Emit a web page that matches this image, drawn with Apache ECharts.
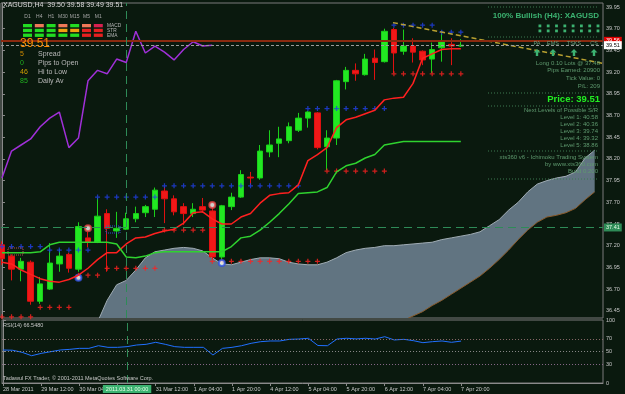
<!DOCTYPE html>
<html>
<head>
<meta charset="utf-8">
<script src="https://cdn.jsdelivr.net/npm/echarts@6.0.0/dist/echarts.min.js"></script>
<style>
html,body{margin:0;padding:0;background:#0a190e;overflow:hidden}
#chart{width:625px;height:394px}
</style>
</head>
<body>
<div id="chart"></div>
<script>
// ---------------- data ----------------
const timeLabels = ['28 Mar 2011','29 Mar 12:00','30 Mar 04:00','30 Mar 20:00','31 Mar 12:00','1 Apr 04:00','1 Apr 20:00','4 Apr 12:00','5 Apr 04:00','5 Apr 20:00','6 Apr 12:00','7 Apr 04:00','7 Apr 20:00'];
const labelBars = [0,4,8,12,16,20,24,28,32,36,40,44,48];
const priceTicks = [36.45,36.70,36.95,37.20,37.45,37.70,37.95,38.20,38.45,38.70,38.95,39.20,39.45,39.70,39.95];
const rsiTicks = [0,30,50,70,100];

const opens = [37.21,37.08,36.93,37.01,36.56,36.70,36.99,37.10,36.93,37.29,
 37.24,37.57,37.37,37.39,37.51,37.58,37.62,37.83,37.74,37.65,
 37.57,37.65,37.60,37.07,37.65,37.76,37.99,37.98,38.28,38.38,
 38.41,38.53,38.67,38.73,38.34,38.44,39.09,39.22,39.17,39.36,
 39.32,39.69,39.44,39.50,39.44,39.35,39.48,39.52,39.50];
const closes = [37.05,36.93,37.02,36.56,36.76,37.00,37.08,36.94,37.42,37.24,
 37.54,37.40,37.40,37.51,37.57,37.65,37.84,37.74,37.59,37.57,
 37.62,37.61,37.07,37.66,37.76,38.02,37.98,38.29,38.36,38.43,
 38.57,38.67,38.74,38.33,38.44,39.10,39.22,39.18,39.35,39.31,
 39.67,39.42,39.50,39.43,39.34,39.46,39.55,39.50,39.51];
const lows = [36.98,36.80,36.79,36.52,36.53,36.69,36.90,36.89,36.90,37.18,
 37.23,36.90,37.29,37.38,37.47,37.53,37.53,37.46,37.55,37.44,
 37.53,37.58,37.04,36.96,37.61,37.75,37.90,37.96,38.22,38.22,
 38.38,38.51,38.56,38.31,38.07,38.36,39.00,39.10,39.16,39.11,
 39.31,39.19,39.40,39.31,39.28,39.19,39.32,39.28,39.49];
const highs = [37.25,37.10,37.06,37.03,36.84,37.23,37.16,37.12,37.47,37.36,
 37.75,37.62,37.59,37.58,37.65,37.67,37.87,37.88,37.78,37.69,
 37.69,37.75,37.65,37.67,37.81,38.07,38.05,38.36,38.53,38.57,
 38.62,38.73,38.75,38.74,38.53,39.11,39.26,39.30,39.41,39.46,
 39.70,39.71,39.69,39.59,39.45,39.54,39.65,39.59,39.58];

const tenkan = [37.01,36.99,36.92,36.87,36.82,36.79,36.78,36.81,36.86,36.94,
 37.04,37.12,37.12,37.22,37.29,37.30,37.34,37.37,37.39,37.46,
 37.58,37.59,37.51,37.45,37.45,37.53,37.57,37.69,37.78,37.80,
 37.81,37.90,38.18,38.25,38.33,38.56,38.65,38.68,38.72,38.76,
 38.88,38.90,38.91,39.07,39.36,39.41,39.46,39.47,39.47];
const kijun = [37.12,37.12,37.12,37.12,37.13,37.21,37.24,37.24,37.24,37.24,
 37.24,37.24,37.22,37.07,37.06,37.08,37.12,37.13,37.13,37.13,
 37.13,37.13,37.13,37.13,37.19,37.29,37.31,37.38,37.47,37.57,
 37.68,37.80,37.81,37.82,37.87,38.05,38.12,38.15,38.21,38.25,
 38.36,38.38,38.40,38.40,38.40,38.40,38.40,38.40,38.40];
const chikouShift = 26;

const resistance = [37.19,37.19,37.19,37.19,37.19,37.15,37.15,37.15,37.15,37.15,
 37.76,37.76,37.76,37.76,37.76,37.76,37.76,37.89,37.89,37.89,
 37.89,37.89,37.89,37.89,37.89,37.89,37.89,37.89,37.89,37.89,
 37.89,37.89,38.78,38.78,38.78,38.78,38.78,38.78,38.78,38.78,
 38.78,39.74,39.74,39.74,39.74,39.74,39.66,39.66,39.66];
const support = [36.38,36.38,36.38,36.38,36.49,36.49,36.49,36.49,36.86,36.86,
 36.86,36.94,36.94,36.94,36.94,36.94,36.94,37.38,37.38,37.38,
 37.38,37.38,37.02,37.02,37.02,37.02,37.02,37.02,37.02,37.02,
 37.02,37.02,37.02,37.02,38.06,38.06,38.06,38.06,38.06,38.06,
 38.06,39.18,39.18,39.18,39.18,39.18,39.18,39.18,39.18];

const cloudStart = 10;
const cloudTop = [36.32,36.57,36.75,36.80,36.92,37.06,37.13,37.15,37.17,37.18,
 37.17,37.14,37.06,36.99,36.98,37.01,37.04,37.06,37.06,37.05,
 37.01,36.99,36.98,36.98,37.01,37.06,37.12,37.15,37.17,37.18,
 37.20,37.20,37.21,37.22,37.23,37.24,37.27,37.29,37.31,37.33,
 37.36,37.43,37.50,37.61,37.70,37.82,37.91,37.95,37.98,38.00,
 38.05,38.21,38.30];
const cloudBottom = [36.23,36.23,36.23,36.23,36.23,36.23,36.23,36.23,36.23,36.23,
 36.23,36.23,36.23,36.23,36.23,36.23,36.23,36.23,36.23,36.23,
 36.23,36.23,36.23,36.23,36.23,36.23,36.23,36.23,36.23,36.23,
 36.23,36.23,36.34,36.39,36.44,36.51,36.57,36.64,36.71,36.78,
 36.85,36.94,37.04,37.15,37.27,37.38,37.47,37.53,37.55,37.58,
 37.63,37.73,37.82];

const rsi = [52.4,52.0,48.7,43.3,47.0,49.7,52.4,53.4,55.0,55.0,
 59.2,56.6,56.6,57.7,60.3,61.4,64.6,61.4,57.7,56.6,
 56.6,56.6,44.4,55.0,56.6,59.2,63.0,65.6,66.7,66.7,
 69.3,69.8,71.0,59.5,59.2,69.8,71.0,70.0,71.0,69.8,
 73.5,68.3,69.3,67.2,64.0,65.6,66.7,64.6,66.5];

const trendBars = [40.9, 62.9];
const trendPrices = [39.77, 39.30];
const redMarkers = [[9, 37.40], [22, 37.67]];
const blueMarkers = [[8, 36.83], [23, 37.00]];

const askPrice = 39.56, bidPrice = 39.51, crossPrice = 37.41, crossBar = 13;
const crossTimeLabel = '2011.03.31 00:00';

const headerText = 'XAGUSD,H4  39.50 39.58 39.49 39.51';
const tfLabels = ['D1','H4','H1','M30','M15','M5','M1'];
const sigRows = ['MACD','STR','EMA'];
const sigColors = [
 ['#22dd22','#f07858','#22dd22','#f07858','#22dd22','#f07858','#d82050'],
 ['#22dd22','#22dd22','#22dd22','#f0a010','#f0a010','#e82020','#e82020'],
 ['#22dd22','#22dd22','#22dd22','#22dd22','#22dd22','#e82020','#e82020']
];
const infoRows = [['5','Spread','#d08c00'],['0','Pips to Open','#20b020'],['46','Hi to Low','#d0a000'],['85','Daily Av','#20b020']];
const panelColumns = ['PA','EMS','TSKS','CS'];
const tradeLines = ['Long 0.10 Lots @ 37.48','Pips Earned: 20900','Tick Value: 0','P/L: 209'];
const levelLines = ['Next Levels of Possible S/R','Level 1: 40.58','Level 2: 40.36','Level 3: 39.74','Level 4: 39.32','Level 5: 38.86'];
const brandLines = ['xts360 v6 - Ichimoku Trading System','by www.xts360.com','Build 0.200'];

// ---------------- chart ----------------
const FONT = '"Liberation Sans", Arial, sans-serif';
const XMIN = -0.1, XMAX = 62.87;
const idx = a => a.map((v, i) => [i, v]);

const candleData = opens.map((o, i) => [i, o, closes[i], lows[i], highs[i]]);
const chikou = [];
for (let i = chikouShift; i < closes.length; i++) chikou.push([i - chikouShift, closes[i]]);

const plusPath = 'path://M3,0H5V3H8V5H5V8H3V5H0V3H3Z';

const G = [];
function T(x, y, text, o) {
  G.push({ type: 'text', x, y, z: 100, silent: true,
    style: Object.assign({ text, fill: '#c8c8c8', font: '6px ' + FONT, align: 'left', verticalAlign: 'middle' }, o || {}) });
}
function dots(y) {
  G.push({ type: 'line', z: 100, silent: true, shape: { x1: 488, y1: y, x2: 599, y2: y },
    style: { stroke: '#3d7a50', lineWidth: 1, lineDash: [1, 2] } });
}
// top-left block
T(3, 5, headerText, { fill: '#d8d8d8', font: '7px ' + FONT });
tfLabels.forEach((t, c) => T(27.5 + c * 11.8, 17, t, { align: 'center', fill: '#a8a8a8', font: '5px ' + FONT }));
sigColors.forEach((row, r) => row.forEach((col, c) => {
  G.push({ type: 'rect', z: 100, silent: true, shape: { x: 23 + c * 11.8, y: 24 + r * 4.8, width: 9, height: 3.3 }, style: { fill: col } });
}));
sigRows.forEach((t, r) => T(107, 25.7 + r * 4.8, t, { fill: '#b8b8b8', font: '4.8px ' + FONT }));
T(20, 44, '39.51', { fill: '#ff8c00', font: '12px ' + FONT });
infoRows.forEach((r, k) => {
  T(20, 54 + k * 9, r[0], { fill: r[2], font: '7px ' + FONT });
  T(38, 54 + k * 9, r[1], { fill: '#b8b8b8', font: '7px ' + FONT });
});
// top-right panel
[7, 37, 93, 106, 151, 179].forEach(dots);
T(599, 16, '100% Bullish (H4): XAGUSD', { align: 'right', fill: '#3cb371', font: 'bold 8px ' + FONT });
for (let r = 0; r < 2; r++) for (let k = 0; k < 8; k++) {
  G.push({ type: 'rect', z: 100, silent: true, shape: { x: 538.5 + k * 8.3, y: 24.5 + r * 5, width: 2.8, height: 2.8 }, style: { fill: '#3cb371' } });
}
const colX = [537, 553, 574, 594];
panelColumns.forEach((t, k) => {
  const cx = colX[k];
  T(cx, 43, t, { align: 'center', fill: '#6a9a7a', font: '5.5px ' + FONT });
  G.push({ type: 'polygon', z: 100, silent: true,
    shape: { points: [[cx, 49], [cx + 3.5, 52.5], [cx + 1.2, 52.5], [cx + 1.2, 56], [cx - 1.2, 56], [cx - 1.2, 52.5], [cx - 3.5, 52.5]] },
    style: { fill: '#3cb371' } });
});
tradeLines.forEach((t, k) => T(600, 63 + k * 7.8, t, { align: 'right', fill: '#5f9a6f', font: '6px ' + FONT }));
T(600, 99, 'Price: 39.51', { align: 'right', fill: '#22ee22', font: 'bold 9.5px ' + FONT });
levelLines.forEach((t, k) => T(598, 110 + k * 7, t, { align: 'right', fill: '#5f9a6f', font: '6px ' + FONT }));
brandLines.forEach((t, k) => T(598, 157 + k * 7, t, { align: 'right', fill: '#5f9a6f', font: '6px ' + FONT }));
// object boxes
G.push({ type: 'rect', z: 90, silent: true, shape: { x: 8, y: 248, width: 15, height: 7 }, style: { fill: 'none', stroke: '#b05050', lineDash: [1, 1] } });
G.push({ type: 'rect', z: 90, silent: true, shape: { x: 106, y: 226, width: 14, height: 7 }, style: { fill: 'none', stroke: '#3050d0', lineDash: [1, 1] } });
// RSI panel texts
T(3, 325.5, 'RSI(14) 66.5480', { fill: '#c8c8c8', font: '5.5px ' + FONT });
T(3, 378, 'Tadawul FX Trader, © 2001-2011 MetaQuotes Software Corp.', { fill: '#c8c8c8', font: '5.5px ' + FONT });

const axisTxt = { color: '#c8c8c8', fontSize: 5.5, fontFamily: FONT };
const hline = (v, color, type, width, label) => ({
  yAxis: v, lineStyle: { color, type, width },
  label: label ? Object.assign({ show: true, position: 'end', distance: 1, fontSize: 5.5, fontFamily: FONT, padding: [1, 2], lineHeight: 6 }, label) : { show: false }
});

function renderCloud(params, api) {
  const cs = params.coordSys;
  const topPts = cloudTop.map((v, k) => api.coord([cloudStart + k, v]));
  const botPts = cloudBottom.map((v, k) => api.coord([cloudStart + k, v]));
  const clip = { type: 'rect', shape: { x: cs.x, y: cs.y, width: cs.width, height: cs.height } };
  return { type: 'group', clipPath: clip, children: [
    { type: 'polygon', shape: { points: topPts.concat(botPts.slice().reverse()) }, style: { fill: '#617481' } },
    { type: 'polyline', shape: { points: topPts }, style: { stroke: '#a0acb4', lineWidth: 1, fill: null } },
    { type: 'polyline', shape: { points: botPts }, style: { stroke: '#8a5a2a', lineWidth: 1, fill: null } }
  ] };
}

const option = {
  backgroundColor: '#0a190e',
  animation: false,
  grid: [
    { left: 1, right: 22, top: 3, height: 315, show: true, borderColor: '#7a7a7a', borderWidth: 1, backgroundColor: 'transparent' },
    { left: 1, right: 22, top: 320, height: 63, show: true, borderColor: '#7a7a7a', borderWidth: 1, backgroundColor: 'transparent' }
  ],
  xAxis: [
    { type: 'value', gridIndex: 0, min: XMIN, max: XMAX, show: false },
    { type: 'value', gridIndex: 1, min: XMIN, max: XMAX,
      axisLine: { show: true, lineStyle: { color: '#8a8a8a' } },
      axisTick: { show: true, customValues: labelBars, length: 3, lineStyle: { color: '#8a8a8a' } },
      axisLabel: Object.assign({ customValues: labelBars, align: 'left', margin: 3,
        formatter: v => timeLabels[labelBars.indexOf(Math.round(v))] }, axisTxt),
      splitLine: { show: false } }
  ],
  yAxis: [
    { type: 'value', gridIndex: 0, position: 'right', min: 36.367, max: 39.996,
      axisLine: { show: true, lineStyle: { color: '#8a8a8a' } },
      axisTick: { show: true, customValues: priceTicks, length: 3, lineStyle: { color: '#8a8a8a' } },
      axisLabel: Object.assign({ customValues: priceTicks, margin: 3, formatter: v => v.toFixed(2) }, axisTxt),
      splitLine: { show: false } },
    { type: 'value', gridIndex: 1, position: 'right', min: 0, max: 100,
      axisLine: { show: true, lineStyle: { color: '#8a8a8a' } },
      axisTick: { show: true, customValues: rsiTicks, length: 3, lineStyle: { color: '#8a8a8a' } },
      axisLabel: Object.assign({ customValues: rsiTicks, margin: 3 }, axisTxt),
      splitLine: { show: false } }
  ],
  graphic: G,
  series: [
    { name: 'cloud', type: 'custom', data: [[cloudStart, cloudTop[0]]], renderItem: renderCloud, silent: true, z: 1 },
    { name: 'trend', type: 'line', data: trendBars.map((b, k) => [b, trendPrices[k]]), showSymbol: false, silent: true,
      lineStyle: { color: '#b8a030', width: 1.5, type: [5, 3] } },
    { name: 'price', type: 'candlestick', data: candleData, barWidth: 6, encode: { x: 0, y: [1, 2, 3, 4] },
      itemStyle: { color: '#22e822', color0: '#f01818', borderColor: '#1ad01a', borderColor0: '#e01010', borderWidth: 1 } },
    { name: 'tenkan', type: 'line', data: idx(tenkan), showSymbol: false, silent: true,
      lineStyle: { color: '#ff2020', width: 1.5 },
      markLine: { silent: true, symbol: ['none', 'none'], animation: false,
        data: [
          hline(askPrice, '#8b2a10', 'solid', 2, { formatter: askPrice.toFixed(2), backgroundColor: '#e00000', color: '#ffffff' }),
          hline(bidPrice, '#9a9a9a', [3, 2], 1, { formatter: bidPrice.toFixed(2), backgroundColor: '#ffffff', color: '#000000' }),
          hline(crossPrice, '#2e8b57', [8, 5], 1, { formatter: crossPrice.toFixed(2), backgroundColor: '#2e8b57', color: '#e8ffe8' }),
          { xAxis: crossBar, lineStyle: { color: '#2e8b57', type: [8, 5], width: 1 }, label: { show: false } }
        ] } },
    { name: 'kijun', type: 'line', data: idx(kijun), showSymbol: false, silent: true,
      lineStyle: { color: '#2fd22f', width: 1.5 } },
    { name: 'chikou', type: 'line', data: chikou, showSymbol: false, silent: true,
      lineStyle: { color: '#a030d8', width: 1.5 } },
    { name: 'resistance', type: 'scatter', data: idx(resistance), symbol: plusPath, symbolSize: 5, silent: true,
      itemStyle: { color: '#2040e8' } },
    { name: 'support', type: 'scatter', data: idx(support), symbol: plusPath, symbolSize: 5, silent: true,
      itemStyle: { color: '#ff2020' } },
    { name: 'redMark', type: 'scatter', data: redMarkers, symbol: 'emptyCircle', symbolSize: 6, silent: true,
      itemStyle: { color: '#e04040', borderWidth: 1 } },
    { name: 'blueMark', type: 'scatter', data: blueMarkers, symbol: 'emptyCircle', symbolSize: 6, silent: true,
      itemStyle: { color: '#3050e0', borderWidth: 1 } },
    { name: 'RSI', type: 'line', xAxisIndex: 1, yAxisIndex: 1, data: idx(rsi), showSymbol: false, silent: true,
      lineStyle: { color: '#2070ff', width: 1 },
      markLine: { silent: true, symbol: ['none', 'none'], animation: false,
        data: [
          { yAxis: 70, lineStyle: { color: '#8a6a6a', type: [1, 2], width: 1 }, label: { show: false } },
          { yAxis: 50, lineStyle: { color: '#8a8a8a', type: [1, 2], width: 1 }, label: { show: false } },
          { yAxis: 30, lineStyle: { color: '#8a6a8a', type: [1, 2], width: 1 }, label: { show: false } },
          { xAxis: crossBar, lineStyle: { color: '#2e8b57', type: [8, 5], width: 1 },
            label: { show: true, position: 'start', distance: 2, formatter: crossTimeLabel, backgroundColor: '#3cb371',
              color: '#e8ffe8', fontSize: 5.5, fontFamily: FONT, padding: [1, 3], lineHeight: 6 } }
        ] } }
  ]
};
const chart = echarts.init(document.getElementById('chart'), null, { renderer: 'canvas' });
chart.setOption(option);
</script>
</body>
</html>
